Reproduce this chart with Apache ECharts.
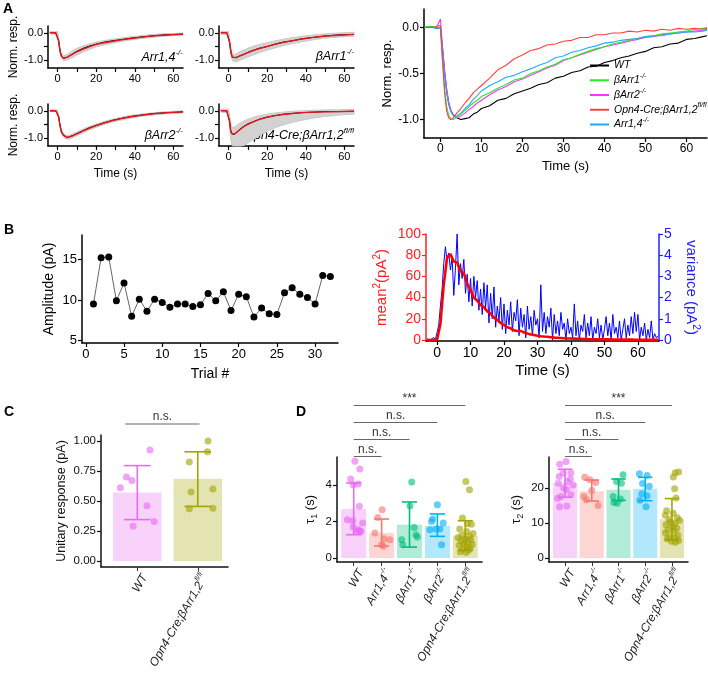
<!DOCTYPE html>
<html><head><meta charset="utf-8">
<script src="https://cdn.jsdelivr.net/npm/echarts@6/dist/echarts.min.js"></script>
<style>html,body{margin:0;padding:0;background:#fff}#c{width:708px;height:678px}</style>
</head><body><div id="c"></div>
<script>
const FONT = '"Liberation Sans", Arial, Helvetica, sans-serif';

// ---------------- Panel A (normalized responses) ----------------
const tA = [-4,-2,-1,0,0.5,1,1.5,2,2.5,3,3.5,4,5,6,7,8,9,10,12,14,16,18,20,22,24,26,28,30,32,34,36,38,40,42,44,46,48,50,52,54,56,58,60,62,64,65];
const wtA   = [0,0.01,-0.01,0,-0.22,-0.48,-0.68,-0.82,-0.9,-0.94,-0.96,-0.98,-1.0,-0.99,-0.98,-0.94,-0.92,-0.88,-0.85,-0.79,-0.77,-0.72,-0.69,-0.66,-0.62,-0.6,-0.55,-0.53,-0.49,-0.47,-0.43,-0.42,-0.38,-0.36,-0.33,-0.31,-0.28,-0.26,-0.22,-0.21,-0.18,-0.17,-0.13,-0.12,-0.1,-0.09];
const b1A   = [0,0.01,0,0,-0.35,-0.65,-0.85,-0.95,-0.99,-1.0,-0.99,-0.97,-0.94,-0.9,-0.86,-0.82,-0.79,-0.75,-0.71,-0.66,-0.62,-0.57,-0.55,-0.5,-0.47,-0.43,-0.4,-0.35,-0.33,-0.29,-0.26,-0.23,-0.21,-0.18,-0.16,-0.14,-0.12,-0.1,-0.09,-0.07,-0.06,-0.05,-0.04,-0.02,-0.01,0.0];
const b2A   = [0,0,0,0.09,-0.2,-0.45,-0.65,-0.8,-0.89,-0.94,-0.97,-0.98,-0.96,-0.93,-0.89,-0.86,-0.82,-0.79,-0.73,-0.68,-0.64,-0.59,-0.56,-0.52,-0.48,-0.44,-0.41,-0.36,-0.33,-0.3,-0.27,-0.24,-0.21,-0.19,-0.17,-0.15,-0.13,-0.11,-0.1,-0.08,-0.07,-0.06,-0.05,-0.04,-0.03,-0.02];
const opnA  = [0,0,0.01,0.02,-0.35,-0.7,-0.9,-0.98,-1.0,-0.99,-0.96,-0.93,-0.88,-0.82,-0.77,-0.71,-0.67,-0.63,-0.55,-0.46,-0.41,-0.34,-0.3,-0.25,-0.23,-0.19,-0.18,-0.15,-0.14,-0.11,-0.11,-0.08,-0.08,-0.06,-0.06,-0.04,-0.05,-0.03,-0.04,-0.02,-0.03,-0.01,-0.02,-0.01,-0.02,-0.01];
const a14A  = [0,0,-0.01,0,-0.25,-0.5,-0.7,-0.83,-0.91,-0.95,-0.97,-0.96,-0.93,-0.88,-0.84,-0.78,-0.74,-0.69,-0.63,-0.59,-0.54,-0.52,-0.48,-0.45,-0.41,-0.38,-0.33,-0.31,-0.27,-0.25,-0.22,-0.2,-0.17,-0.16,-0.14,-0.13,-0.12,-0.1,-0.09,-0.09,-0.07,-0.06,-0.05,-0.05,-0.04,-0.03];

// small panels: time base, mean, fit, trace envelope
const tS = [-4,-1,0,0.5,1,1.5,2,3,4,5,6,8,10,13,16,20,24,28,33,38,44,50,57,65];
const fit14  = [0,0,0,-0.3,-0.55,-0.74,-0.86,-0.94,-0.93,-0.9,-0.86,-0.78,-0.7,-0.61,-0.53,-0.43,-0.37,-0.32,-0.26,-0.21,-0.16,-0.11,-0.08,-0.05];
const mean14 = [0.01,-0.01,0,-0.28,-0.56,-0.75,-0.87,-0.95,-0.94,-0.9,-0.85,-0.77,-0.68,-0.58,-0.5,-0.42,-0.35,-0.3,-0.25,-0.2,-0.15,-0.11,-0.07,-0.05];
const lo14   = [-0.04,-0.04,-0.05,-0.36,-0.64,-0.84,-0.96,-1.03,-1.03,-1.0,-0.97,-0.9,-0.82,-0.72,-0.63,-0.52,-0.45,-0.39,-0.32,-0.26,-0.21,-0.16,-0.12,-0.09];
const hi14   = [0.04,0.04,0.05,-0.22,-0.46,-0.66,-0.78,-0.85,-0.83,-0.79,-0.74,-0.65,-0.57,-0.49,-0.42,-0.34,-0.29,-0.24,-0.19,-0.15,-0.1,-0.06,-0.03,-0.01];
const fitB1  = [0,0,0,-0.35,-0.62,-0.8,-0.9,-0.93,-0.91,-0.88,-0.85,-0.79,-0.73,-0.65,-0.58,-0.5,-0.43,-0.36,-0.29,-0.23,-0.17,-0.12,-0.09,-0.06];
const meanB1 = [0,0.01,-0.01,-0.33,-0.63,-0.82,-0.91,-0.94,-0.92,-0.87,-0.84,-0.8,-0.72,-0.64,-0.57,-0.51,-0.42,-0.35,-0.3,-0.22,-0.17,-0.12,-0.08,-0.06];
const loB1   = [-0.05,-0.05,-0.06,-0.45,-0.74,-0.93,-1.03,-1.07,-1.07,-1.04,-1.01,-0.95,-0.89,-0.81,-0.73,-0.64,-0.56,-0.48,-0.4,-0.33,-0.26,-0.2,-0.16,-0.13];
const hiB1   = [0.05,0.05,0.06,-0.25,-0.5,-0.67,-0.77,-0.8,-0.77,-0.73,-0.69,-0.63,-0.57,-0.49,-0.43,-0.36,-0.3,-0.24,-0.18,-0.13,-0.08,-0.04,-0.01,0.02];
const fitB2  = [0,0,0,-0.22,-0.45,-0.64,-0.78,-0.9,-0.96,-0.98,-0.97,-0.92,-0.85,-0.75,-0.66,-0.55,-0.45,-0.37,-0.29,-0.22,-0.16,-0.11,-0.07,-0.04];
const meanB2 = [0,0,0.01,-0.2,-0.44,-0.63,-0.79,-0.91,-0.97,-0.99,-0.96,-0.91,-0.84,-0.74,-0.64,-0.54,-0.45,-0.36,-0.28,-0.21,-0.15,-0.1,-0.07,-0.04];
const loB2   = [-0.03,-0.03,-0.03,-0.28,-0.52,-0.71,-0.85,-0.97,-1.03,-1.05,-1.04,-0.99,-0.92,-0.82,-0.72,-0.61,-0.51,-0.42,-0.34,-0.27,-0.2,-0.15,-0.11,-0.08];
const hiB2   = [0.03,0.03,0.03,-0.16,-0.38,-0.57,-0.71,-0.83,-0.89,-0.91,-0.9,-0.85,-0.78,-0.68,-0.59,-0.49,-0.4,-0.32,-0.24,-0.17,-0.12,-0.07,-0.03,0.0];
const fitOp  = [0,0,0,-0.4,-0.7,-0.83,-0.87,-0.86,-0.8,-0.74,-0.68,-0.58,-0.5,-0.4,-0.32,-0.24,-0.18,-0.14,-0.1,-0.07,-0.05,-0.04,-0.03,-0.02];
const meanOp = [0.01,0,0.02,-0.38,-0.71,-0.85,-0.89,-0.87,-0.82,-0.75,-0.67,-0.57,-0.48,-0.4,-0.31,-0.23,-0.18,-0.13,-0.1,-0.07,-0.05,-0.03,-0.03,-0.02];
const loOp   = [-0.05,-0.06,-0.08,-0.6,-1.0,-1.2,-1.3,-1.3,-1.3,-1.3,-1.3,-1.28,-1.18,-1.05,-0.92,-0.76,-0.63,-0.53,-0.43,-0.35,-0.27,-0.21,-0.16,-0.12];
const hiOp   = [0.06,0.06,0.07,-0.2,-0.45,-0.58,-0.62,-0.6,-0.55,-0.5,-0.45,-0.37,-0.31,-0.24,-0.18,-0.12,-0.08,-0.05,-0.02,0.0,0.02,0.03,0.04,0.05];

// ---------------- Panel B ----------------
const trials = [1,2,3,4,5,6,7,8,9,10,11,12,13,14,15,16,17,18,19,20,21,22,23,24,25,26,27,28,29,30,31,32];
const amps   = [9.5,15.2,15.3,9.9,12.1,8.0,10.1,8.6,10.1,9.7,9.1,9.5,9.5,9.2,9.4,10.8,9.9,11.0,8.7,10.7,10.4,7.9,9.0,8.3,8.2,10.9,11.5,10.7,10.3,9.5,13.0,12.9];
const m2T0 = -3, m2Dt = 1;
const mean2 = [0,0,0,0,15,52,78,81,74,73,65,63,53,47,40,37,33,31,27,25,21,19,16,14,12,11,9,8.5,8.5,7,6,5.2,4.6,4,3.5,3.2,3,2.6,2.2,2,1.8,1.6,1.4,1.3,1.2,1.1,1,0.9,0.8,0.7,0.7,0.6,0.6,0.5,0.5,0.4,0.4,0.4,0.3,0.3,0.3,0.3,0.2,0.2,0.2,0.2,0.2,0.1,0.1,0.1];
const varT0 = -3, varDt = 0.5;
const variance = [
 0.05,0.1,0.0,0.08,0.12,0.0,0.35,0.7,1.6,2.4,3.6,4.4,3.7,4.1,3.3,3.9,2.1,3.4,5.0,2.6,
 3.6,2.9,3.8,2.2,3.1,1.8,2.9,1.6,3.0,2.0,2.8,1.4,2.4,1.2,2.7,1.5,2.6,0.8,2.2,1.0,
 2.5,0.6,1.6,0.9,2.0,0.5,1.7,0.3,1.4,0.7,1.8,0.4,1.3,0.9,1.9,0.2,1.5,0.6,1.2,0.1,
 1.6,0.5,1.1,0.2,1.4,0.7,1.0,0.1,2.6,0.4,1.3,0.3,1.1,0.6,1.5,0.0,1.2,0.3,0.9,0.2,
 1.3,0.5,0.8,0.0,1.0,0.3,0.6,0.1,1.7,0.2,0.9,0.0,0.7,0.4,1.2,0.1,0.8,0.2,1.1,0.0,
 0.6,0.3,1.0,0.1,0.7,0.0,0.5,1.1,0.2,0.8,0.0,1.2,0.3,0.6,0.1,0.9,0.0,0.5,1.0,0.1,
 0.7,0.2,1.1,0.3,1.3,0.4,1.2,0.0,0.6,0.2,0.8,0.0,0.5,0.1,0.9,0.0,0.3,0.1,0.2];

// ---------------- Panel C ----------------
const cMean = [0.57, 0.686];
const cLo = [0.345, 0.455];
const cHi = [0.795, 0.91];
const cWT = [0.61,0.70,0.67,0.925,0.46,0.29,0.33];
const cWTj = [-0.28,-0.18,-0.09,0.21,0.16,-0.07,0.28];
const cOp = [1.00,0.91,0.825,0.575,0.60,0.435,0.44];
const cOpj = [0.17,0.16,-0.14,-0.11,0.25,-0.14,0.25];

// ---------------- Panel D ----------------
const t1Mean = [2.69,1.37,1.83,1.77,1.22];
const t1Lo = [1.28,0.66,0.6,1.19,0.42];
const t1Hi = [4.12,2.14,3.08,2.42,2.05];
const t1Pts = [
 [5.31,4.89,4.34,4.07,4.03,2.84,2.1,2.05,1.92,1.70,1.55,1.46,1.50,1.45],
 [2.65,2.23,1.37,1.06,1.0,0.73,0.64],
 [4.17,2.87,1.68,1.0,0.73,1.28,1.15],
 [2.93,2.14,2.01,1.92,1.59,1.59,1.55,0.73],
 [4.21,3.75,2.2,1.88,1.85,1.6,1.45,1.35,1.25,1.2,1.12,1.05,1.0,0.95,0.88,0.8,0.75,0.7,0.62,0.55,0.5,0.42,0.35,0.3]];
const t1Jit = [
 [0.04,0.22,-0.11,0.16,-0.02,0.2,-0.23,-0.04,0.32,-0.02,0.16,0.13,0.22,0.26],
 [0.02,-0.14,-0.24,0.09,0.3,0,0.06],
 [0.08,0.02,0.17,-0.28,-0.24,0.23,0.28],
 [0,-0.17,-0.21,0.21,0.09,-0.05,-0.27,0.15],
 [0.02,0.15,-0.1,0.08,0.22,-0.2,0.05,0.28,-0.12,0.15,-0.26,0.0,0.2,-0.15,0.1,-0.05,0.25,-0.22,0.05,0.18,-0.1,0.12,-0.18,0.03]];
const t2Mean = [21.4,19.1,19.5,19.8,11.1];
const t2Lo = [17.4,16.3,16.5,16.4,5.2];
const t2Hi = [25.4,22.3,22.6,23.1,17.0];
const t2Pts = [
 [27.6,26.8,24.3,24.3,23.3,22.6,21.9,21.4,20.9,20.0,19.5,18.1,17.6,17.1,14.9,14.7],
 [23.1,22.4,21.6,19.3,17.6,16.7,15.0],
 [23.8,21.9,21.4,17.6,16.9,15.9,15.7],
 [24.1,23.6,21.3,20.5,18.4,17.8,16.5,14.7],
 [24.6,24.4,23.2,19.8,17.2,13.5,12.8,12.2,11.5,11.0,10.8,10.2,9.8,9.5,9.0,8.5,8.0,7.8,7.2,6.5,6.0,5.8,5.5,5.0,4.8,4.5]];
const t2Jit = [
 [0.04,-0.2,-0.07,0.22,-0.22,0.2,0.1,-0.25,0.3,-0.05,0.05,0.22,-0.15,-0.28,0.07,-0.2],
 [-0.26,-0.07,0.15,0,-0.3,-0.2,0.24],
 [0.17,-0.07,0.11,-0.2,0.07,-0.17,-0.05],
 [-0.22,0.07,-0.1,0.15,-0.13,0.07,-0.2,0.03],
 [0.25,0.12,0.05,0.1,0.15,-0.2,0.05,-0.25,0.2,-0.1,0.28,-0.05,0.12,-0.22,0.02,0.18,-0.15,0.08,-0.25,0.22,-0.08,0.1,-0.18,0.25,-0.02,0.13]];

const cmpC = [[0.8, 2.03, 1, 'n.s.']];
const cmpD = [[1,2,1,'n.s.'],[1,3,2,'n.s.'],[1,4,3,'n.s.'],[1,5,4,'***']];

const colD = ['#E76BF3','#F8766D','#00BF7D','#00B0F6','#A3A500'];
const colC = ['#E76BF3','#A3A500'];

// ---------- text helpers ----------
function rich(fs, color) {
  const sm = Math.round(fs * 0.62);
  return {
    i: {fontStyle:'italic', fontSize:fs, lineHeight:fs+5, fontFamily:FONT, color},
    n: {fontSize:fs, lineHeight:fs+5, fontFamily:FONT, color},
    sup: {fontStyle:'italic', fontSize:sm, lineHeight:sm+1, verticalAlign:'top', fontFamily:FONT, color},
    s: {fontSize:sm+1, lineHeight:sm+2, verticalAlign:'top', fontFamily:FONT, color},
    sb: {fontSize:sm+1, lineHeight:sm+2, verticalAlign:'bottom', fontFamily:FONT, color}
  };
}
const lbl = {
  WT: '{i|WT}',
  A14: '{i|Arr1,4}{sup|-/-}',
  B1: '{i|βArr1}{sup|-/-}',
  B2: '{i|βArr2}{sup|-/-}',
  Op: '{i|Opn4-Cre;βArr1,2}{sup|fl/fl}'
};
const labD = [lbl.WT, lbl.A14, lbl.B1, lbl.B2, lbl.Op];
const labC = [lbl.WT, lbl.Op];

// ---------- axis helpers ----------
function axis(gi, min, max, ticks, labels, fmt, fs, color, extra, nameFs) {
  const c = color || '#000';
  const nf = nameFs || fs + 1;
  return Object.assign({
    gridIndex: gi, type: 'value', min, max, splitLine: {show:false},
    axisLine: {show:true, onZero:false, lineStyle:{color:c, width:1.5}},
    axisTick: {show:true, length:4, customValues:ticks, lineStyle:{color:c, width:1.2}},
    axisLabel: {show:true, customValues:labels, formatter:fmt, color:c, fontSize:fs, fontFamily:FONT, margin:5},
    nameLocation: 'middle', nameTextStyle: {color:c, fontSize:nf, fontFamily:FONT, rich: rich(nf, c)}
  }, extra || {});
}
const fInt = v => String(Math.round(v));
const f1 = v => v.toFixed(1);
const f2 = v => v.toFixed(2);
function catAxis(gi, labs) {
  const ticks = labs.map((_, k) => k + 1);
  return {
    gridIndex: gi, type:'value', min:0.4, max: gi === 7 ? 2.5 : 5.6, splitLine:{show:false},
    axisLine:{show:true, onZero:false, lineStyle:{color:'#111', width:1.5}},
    axisTick:{show:true, length:4, customValues:ticks, lineStyle:{color:'#333', width:1}},
    axisLabel:{show:true, customValues:ticks, rotate:60, margin:4, verticalAlign:'top',
      formatter: v => labs[Math.round(v)-1], rich: rich(12, '#222')}
  };
}
const hidden = (gi, min, max) => ({gridIndex:gi, type:'value', min, max, show:false});

// ---------- series helpers ----------
function lineS(name, xi, yi, xs, ys, color, width, z) {
  return {name, type:'line', xAxisIndex:xi, yAxisIndex:yi, data: xs.map((x,k)=>[x, ys[k]]),
    symbol:'none', showSymbol:false, lineStyle:{color, width}, itemStyle:{color}, z: z||2, silent:true, animation:false};
}
function bandS(gi, t, lo, hi) {
  return {type:'custom', xAxisIndex:gi, yAxisIndex:gi, data:[[0,0]], silent:true, z:1,
    renderItem(p, api) {
      const pts = [];
      for (let k = 0; k < t.length; k++) pts.push(api.coord([t[k], hi[k]]));
      for (let k = t.length - 1; k >= 0; k--) pts.push(api.coord([t[k], lo[k]]));
      return {type:'polygon', shape:{points:pts}, style:{fill:'#d2d2d2', stroke:'#c8c8c8', lineWidth:1}};
    }};
}
function barS(xi, yi, means, cols, hw) {
  return {type:'custom', xAxisIndex:xi, yAxisIndex:yi, data: means.map((m,k)=>[k+1, m]), silent:true, z:1,
    renderItem(p, api) {
      const x = api.value(0), y = api.value(1);
      const a = api.coord([x - hw, y]), b = api.coord([x + hw, 0]);
      return {type:'rect', shape:{x:a[0], y:a[1], width:b[0]-a[0], height:b[1]-a[1]}, style:{fill:cols[p.dataIndex], opacity:0.3}};
    }};
}
function errS(xi, yi, lo, hi, cols, hw) {
  return {type:'custom', xAxisIndex:xi, yAxisIndex:yi, data: lo.map((l,k)=>[k+1, l, hi[k]]), silent:true, z:4,
    renderItem(p, api) {
      const x = api.value(0);
      const a = api.coord([x, api.value(1)]), b = api.coord([x, api.value(2)]);
      const l = api.coord([x - hw, 0])[0], r = api.coord([x + hw, 0])[0];
      const st = {stroke: cols[p.dataIndex], lineWidth:1.6};
      return {type:'group', children:[
        {type:'line', shape:{x1:a[0], y1:a[1], x2:b[0], y2:b[1]}, style:st},
        {type:'line', shape:{x1:l, y1:a[1], x2:r, y2:a[1]}, style:st},
        {type:'line', shape:{x1:l, y1:b[1], x2:r, y2:b[1]}, style:st}
      ]};
    }};
}
function ptsS(xi, yi, k, vals, jit, color) {
  return {type:'scatter', xAxisIndex:xi, yAxisIndex:yi, data: vals.map((v,i)=>[k + 1 + jit[i], v]),
    symbol:'circle', symbolSize:7, itemStyle:{color, opacity:0.62}, silent:true, z:3};
}
function bracketS(xi, yi, cmps) {
  return {type:'custom', xAxisIndex:xi, yAxisIndex:yi, data: cmps.map(c=>[c[0], c[2]]), silent:true, z:5,
    renderItem(p, api) {
      const c = cmps[p.dataIndex];
      const a = api.coord([c[0], c[2]]), b = api.coord([c[1], c[2]]);
      return {type:'group', children:[
        {type:'line', shape:{x1:a[0], y1:a[1], x2:b[0], y2:b[1]}, style:{stroke:'#666', lineWidth:1}},
        {type:'text', x:(a[0]+b[0])/2, y:a[1]-1, style:{text:c[3], fill:'#333', font:'12px ' + FONT, align:'center', verticalAlign:'bottom'}}
      ]};
    }};
}

// ---------- build ----------
const series = [];
const smalls = [
  [0, lo14, hi14, mean14, fit14],
  [1, loB1, hiB1, meanB1, fitB1],
  [2, loB2, hiB2, meanB2, fitB2],
  [3, loOp, hiOp, meanOp, fitOp]];
smalls.forEach(s => {
  series.push(bandS(s[0], tS, s[1], s[2]));
  series.push(lineS('mean' + s[0], s[0], s[0], tS, s[3], '#000', 1, 2));
  series.push(lineS('fit' + s[0], s[0], s[0], tS, s[4], '#e8141a', 1.4, 3));
});
series.push(lineS('WT', 4, 4, tA, wtA, '#000000', 1.1, 2));
series.push(lineS('βArr2', 4, 4, tA, b2A, '#ff33ff', 1.1, 2));
series.push(lineS('βArr1', 4, 4, tA, b1A, '#22ee22', 1.1, 2));
series.push(lineS('Arr1,4', 4, 4, tA, a14A, '#22aaff', 1.1, 2));
series.push(lineS('Opn4', 4, 4, tA, opnA, '#ff4040', 1.1, 2));
series.push({name:'amp', type:'line', xAxisIndex:5, yAxisIndex:5, data: trials.map((t,k)=>[t, amps[k]]),
  symbol:'circle', symbolSize:7, showSymbol:true, itemStyle:{color:'#000'}, lineStyle:{color:'#666', width:1}, silent:true});
series.push({name:'var', type:'line', xAxisIndex:6, yAxisIndex:7, data: variance.map((v,k)=>[varT0 + k*varDt, v]),
  symbol:'none', lineStyle:{color:'#0000ff', width:1}, silent:true, z:2});
series.push({name:'m2', type:'line', xAxisIndex:6, yAxisIndex:6, data: mean2.map((v,k)=>[m2T0 + k*m2Dt, v]),
  symbol:'none', lineStyle:{color:'#ff0000', width:2.6}, silent:true, z:3});
series.push(barS(7, 8, cMean, colC, 0.4));
series.push(ptsS(7, 8, 0, cWT, cWTj, colC[0]));
series.push(ptsS(7, 8, 1, cOp, cOpj, colC[1]));
series.push(errS(7, 8, cLo, cHi, colC, 0.22));
series.push(bracketS(10, 11, cmpC));
series.push(barS(8, 9, t1Mean, colD, 0.45));
t1Pts.forEach((v,k) => series.push(ptsS(8, 9, k, v, t1Jit[k], colD[k])));
series.push(errS(8, 9, t1Lo, t1Hi, colD, 0.27));
series.push(bracketS(11, 12, cmpD));
series.push(barS(9, 10, t2Mean, colD, 0.45));
t2Pts.forEach((v,k) => series.push(ptsS(9, 10, k, v, t2Jit[k], colD[k])));
series.push(errS(9, 10, t2Lo, t2Hi, colD, 0.27));
series.push(bracketS(12, 13, cmpD));

const legendMap = {'WT':lbl.WT, 'βArr1':lbl.B1, 'βArr2':lbl.B2, 'Opn4':lbl.Op, 'Arr1,4':lbl.A14};

const tick10 = [0,10,20,30,40,50,60];
const option = {
  animation: false,
  textStyle: {fontFamily: FONT},
  grid: [
    {left:48, top:26, width:135, height:42},
    {left:219, top:26, width:135, height:42},
    {left:48, top:104, width:135, height:42},
    {left:219, top:104, width:135, height:42},
    {left:424, top:9, width:283, height:129},
    {left:82, top:235, width:256, height:108},
    {left:426, top:234, width:233, height:107},
    {left:101, top:435, width:127, height:132},
    {left:337, top:457, width:145, height:105},
    {left:549, top:457, width:139, height:105},
    {left:101, top:414, width:127, height:20},
    {left:337, top:397, width:145, height:68},
    {left:549, top:397, width:139, height:68}
  ],
  xAxis: [
    axis(0, -5, 65, tick10, [0,20,40,60], fInt, 11),
    axis(1, -5, 65, tick10, [0,20,40,60], fInt, 11),
    axis(2, -5, 65, tick10, [0,20,40,60], fInt, 11, null, {name:'Time (s)', nameGap:22}),
    axis(3, -5, 65, tick10, [0,20,40,60], fInt, 11, null, {name:'Time (s)', nameGap:22}),
    axis(4, -4, 65, tick10, tick10, fInt, 12, null, {name:'Time (s)', nameGap:22}),
    axis(5, -0.5, 33, [0,5,10,15,20,25,30], [0,5,10,15,20,25,30], fInt, 13, null, {name:'Trial #', nameGap:24}),
    axis(6, -3.3, 66.3, tick10, tick10, fInt, 14, null, {name:'Time (s)', nameGap:22}),
    catAxis(7, labC),
    catAxis(8, labD),
    catAxis(9, labD),
    hidden(10, 0.4, 2.5),
    hidden(11, 0.4, 5.6),
    hidden(12, 0.4, 5.6)
  ],
  yAxis: [
    axis(0, -1.3, 0.25, [-1,-0.5,0], [-1,0], f1, 11, null, {name:'Norm. resp.', nameGap:28}),
    axis(1, -1.3, 0.25, [-1,-0.5,0], [-1,0], f1, 11),
    axis(2, -1.3, 0.25, [-1,-0.5,0], [-1,0], f1, 11, null, {name:'Norm. resp.', nameGap:28}),
    axis(3, -1.3, 0.25, [-1,-0.5,0], [-1,0], f1, 11),
    axis(4, -1.2, 0.2, [-1,-0.5,0], [-1,-0.5,0], f1, 12, null, {name:'Norm. resp.', nameGap:30}),
    axis(5, 4.7, 18, [5,10,15], [5,10,15], fInt, 13, null, {name:'Amplitude (pA)', nameGap:26}),
    axis(6, -1, 100, [0,20,40,60,80,100], [0,20,40,60,80,100], fInt, 14, '#ff2020',
      {name:'{n|mean}{s|2}{n|(pA}{s|2}{n|)}', nameGap:34}),
    axis(6, -0.05, 5, [0,1,2,3,4,5], [0,1,2,3,4,5], fInt, 14, '#2020ff',
      {position:'right', name:'{n|variance (pA}{s|2}{n|)}', nameGap:22, nameRotate:-90}),
    axis(7, -0.05, 1.05, [0,0.25,0.5,0.75,1], [0,0.25,0.5,0.75,1], f2, 11.5, '#111',
      {name:'Unitary response (pA)', nameGap:33}, 12.5),
    axis(8, -0.22, 5.55, [0,2,4], [0,2,4], fInt, 11.5, '#111', {name:'{n|τ}{sb|1}{n| (s)}', nameGap:18}, 13),
    axis(9, -1.14, 28.9, [0,10,20], [0,10,20], fInt, 11.5, '#111', {name:'{n|τ}{sb|2}{n| (s)}', nameGap:24}, 13),
    hidden(10, 0.5, 1.5),
    hidden(11, 0.5, 4.5),
    hidden(12, 0.5, 4.5)
  ],
  legend: {
    data: ['WT','βArr1','βArr2','Opn4','Arr1,4'],
    orient: 'vertical', left: 585, top: 55, itemGap: 1.5, itemWidth: 19, itemHeight: 2, icon: 'rect',
    formatter: n => legendMap[n],
    textStyle: {color:'#000', fontSize:10.5, rich: rich(10.5, '#000')},
    selectedMode: false
  },
  graphic: [
    {type:'text', left:3, top:2, style:{text:'A', font:'bold 14px ' + FONT, fill:'#000'}},
    {type:'text', left:4, top:223, style:{text:'B', font:'bold 14px ' + FONT, fill:'#000'}},
    {type:'text', left:4, top:405, style:{text:'C', font:'bold 14px ' + FONT, fill:'#000'}},
    {type:'text', left:296, top:405, style:{text:'D', font:'bold 14px ' + FONT, fill:'#000'}},
    {type:'text', x:183, y:58, style:{text:lbl.A14, rich:rich(12.5,'#000'), align:'right', verticalAlign:'middle'}},
    {type:'text', x:354, y:57, style:{text:lbl.B1, rich:rich(12.5,'#000'), align:'right', verticalAlign:'middle'}},
    {type:'text', x:183, y:136, style:{text:lbl.B2, rich:rich(12.5,'#000'), align:'right', verticalAlign:'middle'}},
    {type:'text', x:354, y:136, style:{text:lbl.Op, rich:rich(12.5,'#000'), align:'right', verticalAlign:'middle'}}
  ],
  series
};
const chart = echarts.init(document.getElementById('c'), null, {renderer:'canvas'});
chart.setOption(option);
</script></body></html>
